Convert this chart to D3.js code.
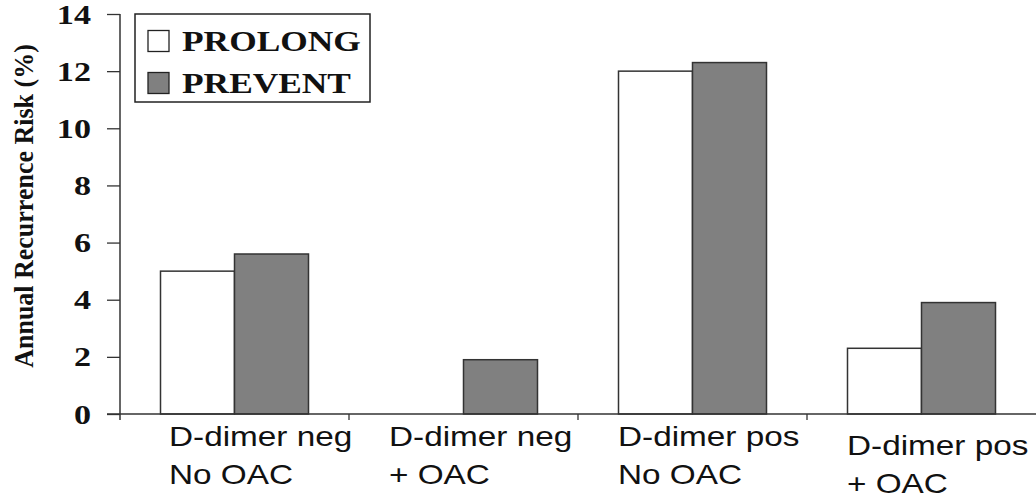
<!DOCTYPE html>
<html>
<head>
<meta charset="utf-8">
<script src="https://cdn.jsdelivr.net/npm/d3@7"></script>
<style>
  html, body { margin: 0; padding: 0; background: #fff; }
  svg { display: block; }
</style>
</head>
<body>
<svg id="chart" width="1036" height="501"></svg>
<script>
// ---- data ----
const categories = ["D-dimer neg|No OAC", "D-dimer neg|+ OAC", "D-dimer pos|No OAC", "D-dimer pos|+ OAC"];
const series = ["PROLONG", "PREVENT"];
const prolong = [5.0, 0, 12.0, 2.3];
const prevent = [5.6, 1.9, 12.3, 3.9];
const yTicks = [0, 2, 4, 6, 8, 10, 12, 14];
const yTitle = "Annual Recurrence Risk (%)";

// ---- layout ----
(function () {
const svg = d3.select("#chart");
const pLeft = 120, pRight = 1036, pTop = 14, pBottom = 414;
const SX = 1.19; // horizontal stretch of the original typography
const fills = { PROLONG: "#ffffff", PREVENT: "#808080" };
const lineColor = "#333";

const x = d3.scaleBand().domain(categories).range([pLeft, pRight]).padding(0);
const xs = d3.scaleBand().domain(series).range([40.5, x.bandwidth() - 40.5]).padding(0);
const y = d3.scaleLinear().domain([0, 14]).range([pBottom, pTop]);

const values = { PROLONG: prolong, PREVENT: prevent };

// bars
const g = svg.append("g");
categories.forEach((c, i) => {
  series.forEach(s => {
    const v = values[s][i];
    if (v <= 0) return;
    g.append("rect")
      .attr("x", x(c) + xs(s))
      .attr("y", y(v))
      .attr("width", xs.bandwidth())
      .attr("height", y(0) - y(v))
      .attr("fill", fills[s])
      .attr("stroke", lineColor)
      .attr("stroke-width", 1.5);
  });
});

// y axis
const yAxis = d3.axisLeft(y).tickValues(yTicks).tickSize(13).tickFormat("");
const ya = svg.append("g").attr("transform", `translate(${pLeft},0)`).call(yAxis);
ya.select(".domain").remove();
ya.selectAll(".tick line").attr("stroke", lineColor).attr("stroke-width", 1.3);
svg.append("line")
  .attr("x1", pLeft).attr("x2", pLeft)
  .attr("y1", y(14)).attr("y2", pBottom + 6)
  .attr("stroke", lineColor).attr("stroke-width", 1.5);

// y tick labels (stretched Times bold)
yTicks.forEach(t => {
  svg.append("text")
    .attr("transform", `translate(91,${y(t) + 9.5}) scale(1.22,1)`)
    .attr("text-anchor", "end")
    .attr("font-family", "Liberation Serif, Times New Roman, serif")
    .attr("font-weight", "bold")
    .attr("font-size", 28)
    .attr("fill", "#111")
    .text(t);
});

// x axis
const xAxis = d3.axisBottom(x).tickSize(0).tickFormat("");
const xa = svg.append("g").attr("transform", `translate(0,${pBottom})`).call(xAxis);
xa.select(".domain").remove();
svg.append("line")
  .attr("x1", pLeft - 13).attr("x2", pRight)
  .attr("y1", pBottom).attr("y2", pBottom)
  .attr("stroke", lineColor).attr("stroke-width", 1.5);
categories.forEach((c, i) => {
  if (i === 0) return;
  svg.append("line")
    .attr("x1", x(c)).attr("x2", x(c))
    .attr("y1", pBottom).attr("y2", pBottom + 6)
    .attr("stroke", lineColor).attr("stroke-width", 1.3);
});

// x labels
categories.forEach((c, i) => {
  const lines = c.split("|");
  const dx = i === 0 ? 49 : 40;
  const base = i === 3 ? 455 : 446;
  const t = svg.append("text")
    .attr("transform", `translate(${x(c) + dx},${base}) scale(${SX},1)`)
    .attr("font-family", "Liberation Sans, Arial, sans-serif")
    .attr("font-size", 28)
    .attr("fill", "#111");
  lines.forEach((ln, k) => {
    t.append("tspan").attr("x", 0).attr("y", k * 38.5).text(ln);
  });
});

// y title
svg.append("text")
  .attr("transform", `translate(33,206) scale(1.05,1) rotate(-90)`)
  .attr("text-anchor", "middle")
  .attr("font-family", "Liberation Serif, Times New Roman, serif")
  .attr("font-weight", "bold")
  .attr("font-size", 26)
  .attr("fill", "#111")
  .text(yTitle);

// legend
const lg = svg.append("g");
lg.append("rect")
  .attr("x", 135).attr("y", 14).attr("width", 235).attr("height", 88)
  .attr("fill", "#fff").attr("stroke", "#222").attr("stroke-width", 1.5);
series.forEach((s, k) => {
  const cy = 41 + k * 42;
  lg.append("rect")
    .attr("x", 148).attr("y", cy - 10.5).attr("width", 21).attr("height", 21)
    .attr("fill", fills[s]).attr("stroke", "#222").attr("stroke-width", 1.3);
  lg.append("text")
    .attr("transform", `translate(182,${cy + 10}) scale(1.22,1)`)
    .attr("font-family", "Liberation Serif, Times New Roman, serif")
    .attr("font-weight", "bold")
    .attr("font-size", 29)
    .attr("fill", "#111")
    .text(s);
});
})();
</script>
</body>
</html>
